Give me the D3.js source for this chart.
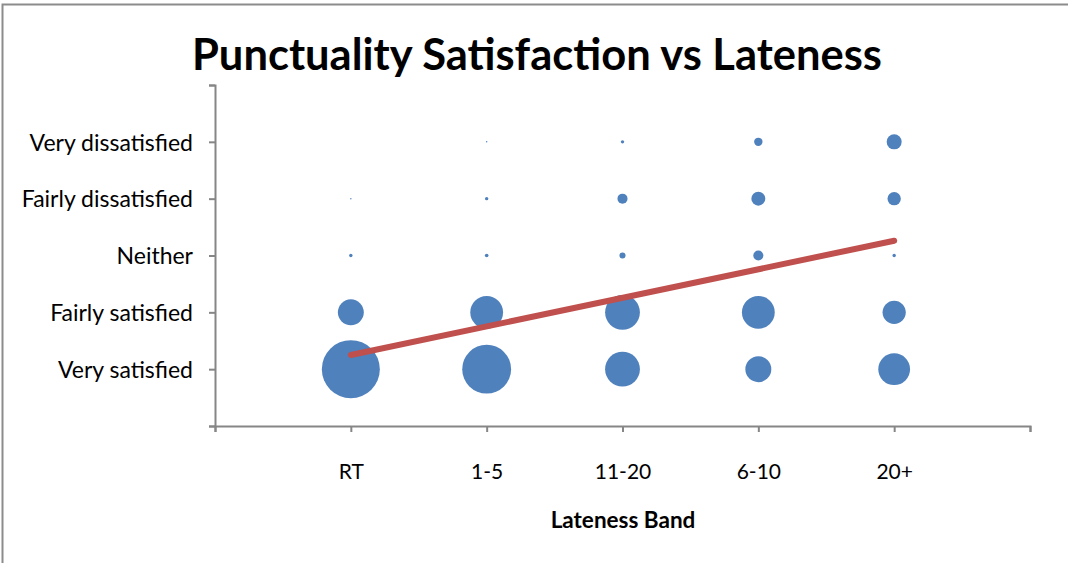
<!DOCTYPE html>
<html>
<head>
    <title>Punctuality Satisfaction vs Lateness</title>
</head>
<body style="margin:0">
<style type="text/css">
    #renderer {
        width: 1068px;
        height: 563px;
        background: #fff;
        display: block;
    }
    text { font-family: Lato, "Open Sans", sans-serif; fill: #000; }
</style>
<script type="text/javascript" src="https://cdnjs.cloudflare.com/ajax/libs/d3/7.8.5/d3.min.js"></script>
<svg id='renderer'></svg>

<script type="text/javascript">
    // data
    var bands = ['RT', '1-5', '11-20', '6-10', '20+'];
    var levels = ['Very satisfied', 'Fairly satisfied', 'Neither', 'Fairly dissatisfied', 'Very dissatisfied'];

    // bubble sizes per band, ordered as in levels
    var sizeRT    = [100, 20, 0.34, 0.06, 0];
    var size1to5  = [71, 32, 0.4, 0.34, 0.06];
    var size11to20 = [36, 36, 1.1, 3, 0.34];
    var size6to10 = [20, 32, 3, 5.8, 2.1];
    var size20plus = [30, 16, 0.34, 5.3, 6.7];
    var sizes = [sizeRT, size1to5, size11to20, size6to10, size20plus];

    // linear trend line, value at first and last band
    var trendValues = [1.25, 3.26];

    var title = 'Punctuality Satisfaction vs Lateness';
    var xTitle = 'Lateness Band';

    var W = 1068, H = 563;
    var root = d3.select('#renderer');

    // chart frame
    root.append('rect')
        .attr('x', 2.5).attr('y', 4.5)
        .attr('width', 1100).attr('height', 600)
        .attr('fill', 'none')
        .attr('stroke', '#8c8c8c')
        .attr('stroke-width', 2);

    var x = d3.scaleLinear().domain([0, bands.length + 1]).range([215, 1030]);
    var y = d3.scaleLinear().domain([0, levels.length + 1]).range([426, 85]);
    var r = d3.scaleSqrt().domain([0, 100]).range([0, 29]);

    var ticks = d3.range(0, levels.length + 2);

    // y axis
    var yAxis = root.append('g')
        .attr('transform', 'translate(' + x(0) + ',0)')
        .call(d3.axisLeft(y).tickValues(ticks).tickSize(6).tickPadding(16)
            .tickFormat(function (d) { return levels[d - 1] || ''; }));

    // x axis
    var xAxis = root.append('g')
        .attr('transform', 'translate(0,' + y(0) + ')')
        .call(d3.axisBottom(x).tickValues(ticks).tickSize(6).tickPadding(32)
            .tickFormat(function (d) { return bands[d - 1] || ''; }));

    [yAxis, xAxis].forEach(function (g) {
        g.selectAll('.domain').attr('stroke', '#868686').attr('stroke-width', 2);
        g.selectAll('.tick line').attr('stroke', '#868686').attr('stroke-width', 2);
        g.selectAll('.tick text')
            .attr('fill', '#000')
            .style('font-family', 'Lato, "Open Sans", sans-serif');
    });
    yAxis.selectAll('.tick text').attr('dy', '0.36em').style('font-size', '23px');
    xAxis.selectAll('.tick text').style('font-size', '21px');

    // bubbles
    var points = [];
    sizes.forEach(function (col, i) {
        col.forEach(function (v, j) {
            points.push({ band: i + 1, level: j + 1, value: v });
        });
    });

    root.append('g').selectAll('circle')
        .data(points.filter(function (p) { return p.value > 0; }))
        .enter().append('circle')
        .attr('cx', function (p) { return x(p.band); })
        .attr('cy', function (p) { return y(p.level); })
        .attr('r', function (p) { return r(p.value); })
        .attr('fill', '#4f81bd');

    // trend line
    var trend = [
        { band: 1, value: trendValues[0] },
        { band: bands.length, value: trendValues[1] }
    ];
    root.append('path')
        .datum(trend)
        .attr('d', d3.line()
            .x(function (d) { return x(d.band); })
            .y(function (d) { return y(d.value); }))
        .attr('fill', 'none')
        .attr('stroke', '#c0504d')
        .attr('stroke-width', 6)
        .attr('stroke-linecap', 'round');

    // titles
    root.append('text')
        .attr('x', 537).attr('y', 70)
        .attr('text-anchor', 'middle')
        .style('font-size', '43.5px')
        .style('font-weight', 'bold')
        .text(title);

    root.append('text')
        .attr('x', 623).attr('y', 528)
        .attr('text-anchor', 'middle')
        .style('font-size', '22.5px')
        .style('font-weight', 'bold')
        .text(xTitle);
</script>
</body>
</html>
